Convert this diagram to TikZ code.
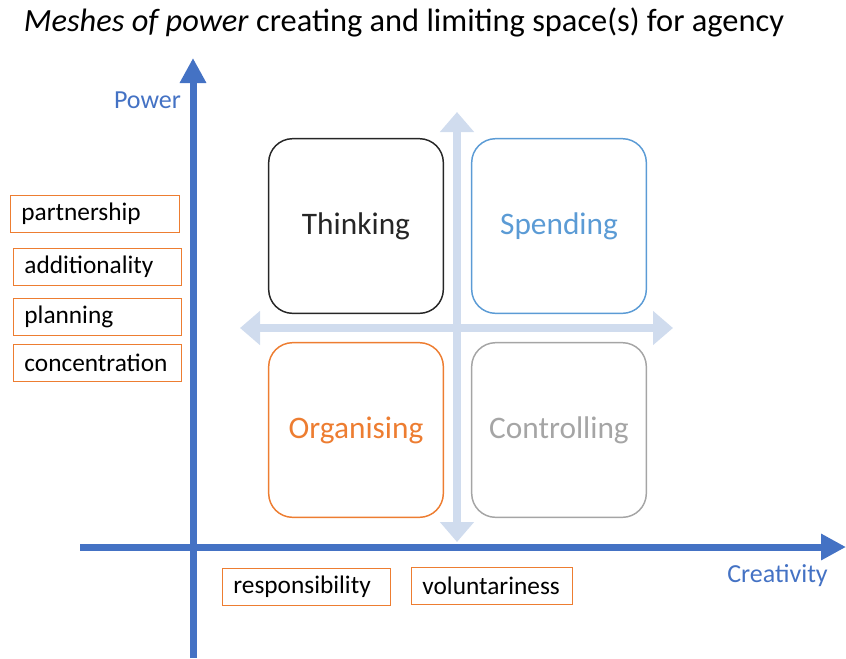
\documentclass[tikz,border=0pt]{standalone}
\usepackage{fontspec}
\setmainfont{Carlito}
\usetikzlibrary{arrows.meta}

\definecolor{axisblue}{RGB}{68,114,196}
\definecolor{crossblue}{RGB}{208,220,238}
\definecolor{spendblue}{RGB}{91,155,213}
\definecolor{tagorange}{RGB}{237,125,49}
\definecolor{ctrlgray}{RGB}{165,165,165}
\definecolor{thinkblack}{RGB}{38,38,38}

\tikzset{every picture/.style={line width=0.75pt}}
\tikzset{
  axisarrow/.style={axisblue, line width=5.25pt, -{Triangle[length=18.75pt,width=18.75pt]}},
  crossarrow/.style={crossblue, line width=6pt, {Triangle[length=15pt,width=24.75pt]}-{Triangle[length=15pt,width=24.75pt]}},
  quadbox/.style={draw=#1, text=#1, line width=1.1pt, rounded corners=18pt, minimum width=131pt, minimum height=131pt, font=\fontsize{23.5}{28}\selectfont},
  tagbox/.style={draw=tagorange, line width=1.1pt, text width=#1, align=left, inner xsep=8pt, minimum height=28pt, anchor=west, font=\fontsize{19}{22}\selectfont},
  axislabel/.style={text=axisblue, font=\fontsize{19.5}{22}\selectfont}
}

\begin{document}
\begin{tikzpicture}[x=0.75pt,y=0.75pt,yscale=-1,xscale=1]
\path[use as bounding box] (0,0) rectangle (846,658); %set diagram size

% Text Node
\draw (19,31) node [anchor=base west, font=\fontsize{24.3}{28}\selectfont] (title) {\textit{Meshes of power} creating and limiting space(s) for agency};

%Straight Lines [cross]
\coordinate (crosstop) at (457,112);
\coordinate (crossbot) at (457,542);
\coordinate (crossleft) at (240,328);
\coordinate (crossright) at (673,328);
\draw [crossarrow] (crossbot) -- (crosstop);
\draw [crossarrow] (crossleft) -- (crossright);

%Straight Lines [axes]
\coordinate (ybase) at (193,658);
\coordinate (ytip) at (193,58);
\coordinate (xbase) at (80,547);
\coordinate (xtip) at (846,547);
\draw [axisarrow] (ybase) -- (ytip);
\draw [axisarrow] (xbase) -- (xtip);

%Shape: Rounded Rect
\draw (356,226) node [quadbox=thinkblack] (thinking) {Thinking};
\draw (559,226) node [quadbox=spendblue] (spending) {Spending};
\draw (356,430) node [quadbox=tagorange] (organising) {Organising};
\draw (559,430) node [quadbox=ctrlgray] (controlling) {Controlling};

% Text Node
\draw (147.5,100) node [axislabel] (power) {Power};
% Text Node
\draw (777.5,576) node [axislabel] (creativity) {Creativity};

% Text Node
\draw (10,214) node [tagbox=110.5pt] (partnership) {partnership};
\draw (13,267) node [tagbox=109.75pt] (additionality) {additionality};
\draw (13,317) node [tagbox=109.75pt] (planning) {planning};
\draw (13,363) node [tagbox=109.75pt] (concentration) {concentration};
% Text Node
\draw (222,587) node [tagbox=109.75pt] (responsibility) {responsibility};
\draw (411,586) node [tagbox=104.5pt] (voluntariness) {voluntariness};

\end{tikzpicture}
\end{document}
